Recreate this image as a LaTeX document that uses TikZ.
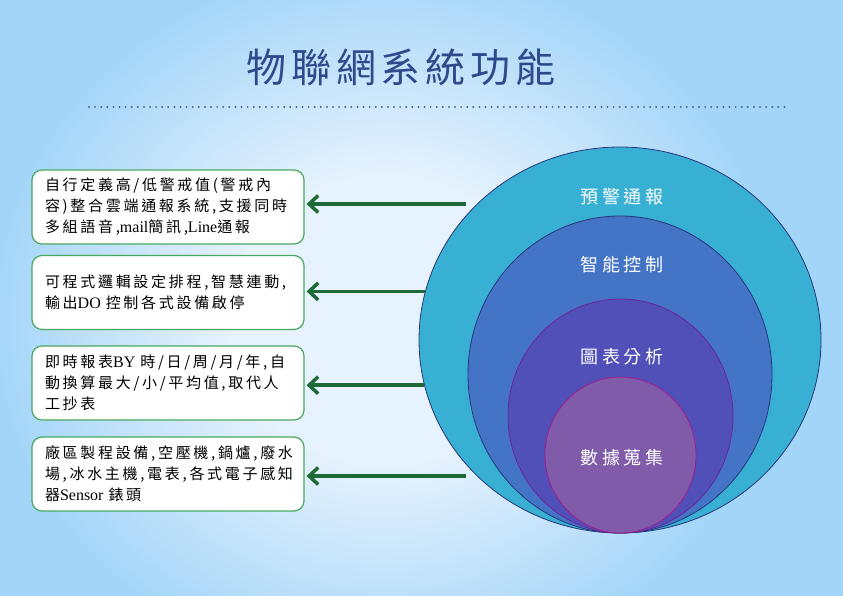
\documentclass[tikz,border=0pt]{standalone}
\usepackage{fontspec}
\setmainfont{Noto Sans CJK TC}
\newfontfamily\titlefont[LetterSpace=12]{Noto Sans CJK TC}
\newfontfamily\boxfont[LetterSpace=18]{Noto Sans CJK TC}
\newfontfamily\ringfont[LetterSpace=20]{Noto Sans CJK TC}
\newfontfamily\latfont{Liberation Serif}
\newcommand{\lat}[1]{{\latfont\fontsize{16}{21}\selectfont #1}}
\usetikzlibrary{shapes.geometric,arrows.meta}

\definecolor{bgout}{HTML}{A3D5F8}
\definecolor{bgin}{HTML}{E6F2FD}
\definecolor{titleblue}{HTML}{2E4A8C}
\definecolor{dotblue}{HTML}{4A6A9C}
\definecolor{boxgreen}{HTML}{48A85E}
\definecolor{arrowgreen}{HTML}{1E6A36}
\definecolor{ringA}{HTML}{37B0D3}
\definecolor{ringB}{HTML}{4474C6}
\definecolor{ringC}{HTML}{5150B9}
\definecolor{ringD}{HTML}{7F5BA9}
\definecolor{ringline}{HTML}{28367A}
\definecolor{ringlineC}{HTML}{6B2597}
\definecolor{ringlineD}{HTML}{A01C8E}

\pgfdeclareradialshading{bgglow}{\pgfpoint{0bp}{0bp}}{color(0bp)=(bgin); color(10bp)=(bgin); color(25bp)=(bgout); color(50bp)=(bgout)}

\begin{document}
\begin{tikzpicture}[x=1pt,y=-1pt,
    featbox/.style={draw=boxgreen,line width=1.2pt,fill=white,rounded corners=10pt,
      minimum height=74pt,text width=246pt,inner xsep=13pt,inner ysep=0pt,align=left,
      font=\boxfont\fontsize{15}{21}\selectfont},
    ring/.style={ellipse,inner sep=0pt,line width=0.8pt},
    ringlabel/.style={text=white,font=\ringfont\fontsize{18}{20}\selectfont},
    feed/.style={draw=arrowgreen,line width=3.5pt,shorten >=2pt,
      -{Straight Barb[length=9pt,width=17pt]}}]
          % background
          \useasboundingbox (0,0) rectangle (843,596);
          \fill[bgout] (0,0) rectangle (843,596);
          \begin{scope}
            \clip (0,0) rectangle (843,596);
            \shade[shading=bgglow] (385,320) ellipse (395 and 360);
          \end{scope}

          \node[font=\titlefont\fontsize{40}{44}\selectfont,text=titleblue] (title) at (401,67) {物聯網系統功能};
          \draw[dotblue,line width=2.2pt,line cap=round,dash pattern=on 0pt off 6.1pt] (89,107) -- (788,107);

          \node[ring,draw=ringline,fill=ringA,minimum width=402pt,minimum height=386pt] (warn) at (620,340) {};
          \node[ring,draw=ringline,fill=ringB,minimum width=304pt,minimum height=317pt] (ctrl) at (620,374.5) {};
          \node[ring,draw=ringlineC,fill=ringC,minimum width=225pt,minimum height=234pt] (chart) at (620.5,416) {};
          \node[ring,draw=ringlineD,fill=ringD,minimum width=151pt,minimum height=156pt] (data) at (620.5,455) {};

          \node[ringlabel] (warnlbl) at (622,197) {預警通報};
          \node[ringlabel] (ctrllbl) at (622,265) {智能控制};
          \node[ringlabel] (chartlbl) at (622,357) {圖表分析};
          \node[ringlabel] (datalbl) at (622,458) {數據蒐集};

          \node[featbox] (warnbox) at (168,207) {自行定義高/低警戒值(警戒內\\容)整合雲端通報系統,支援同時\\多組語音,\lat{mail}簡訊,\lat{Line}通報};
          \node[featbox] (ctrlbox) at (168,292.5) {可程式邏輯設定排程,智慧連動,\\輸出\lat{DO}~控制各式設備啟停};
          \node[featbox] (chartbox) at (168,383) {即時報表\lat{BY}~時/日/周/月/年,自\\動換算最大/小/平均值,取代人\\工抄表};
          \node[featbox] (databox) at (168,474) {廠區製程設備,空壓機,鍋爐,廢水\\場,冰水主機,電表,各式電子感知\\器\lat{Sensor}~錶頭};

          \coordinate (warnfrom) at (466,204);
          \draw[feed] (warnfrom) -- (warnfrom -| warnbox.east);
          \draw[feed] (warn.166) -- (warn.166 -| ctrlbox.east);
          \draw[feed] (warn.193) -- (warn.193 -| chartbox.east);
          \coordinate (datafrom) at (466,476);
          \draw[feed] (datafrom) -- (datafrom -| databox.east);
        \end{tikzpicture}
\end{document}
